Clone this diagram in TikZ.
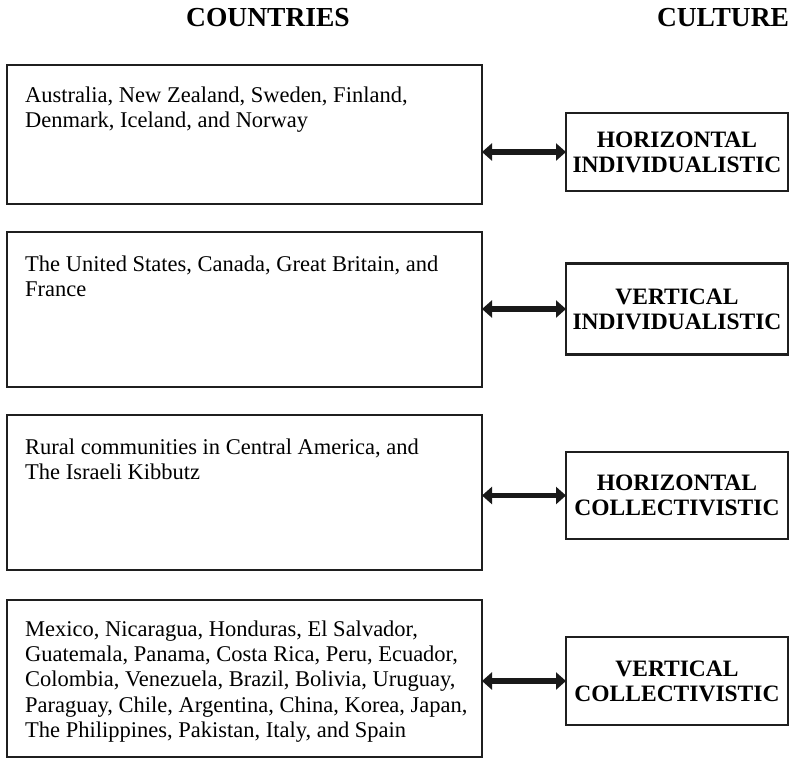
\documentclass[tikz,border=0pt]{standalone}
\usepackage{fontspec}
\setmainfont{Liberation Serif}
\usetikzlibrary{arrows.meta}
\begin{document}
\begin{tikzpicture}[x=1pt,y=-1pt,
  boxline/.style={draw=black!88, line width=2.8pt},
  leftbox/.style={boxline, rectangle, inner sep=0pt, outer sep=0pt, anchor=north west, minimum width=475pt},
  cultbox/.style={boxline, rectangle, inner sep=0pt, outer sep=0pt, minimum width=222pt, align=center, font=\fontsize{23.5}{25}\selectfont\bfseries},
  body/.style={anchor=north west, inner sep=0pt, align=left, font=\fontsize{22.5}{25.3}\selectfont},
  header/.style={inner sep=0pt, font=\fontsize{27.5}{30}\selectfont\bfseries},
  dblarrow/.style={line width=5.5pt, draw=black!90, {Triangle[length=10pt,width=17pt]}-{Triangle[length=10pt,width=17pt]}}
]
\useasboundingbox (0,0) rectangle (790,761);

\node[header] (hcountries) at (268,18) {COUNTRIES};
\node[header] (hculture) at (723,18) {CULTURE};

\node[leftbox, minimum height=139pt] (lb1) at (7,65) {};
\node[leftbox, minimum height=155pt] (lb2) at (7,232) {};
\node[leftbox, minimum height=155pt] (lb3) at (7,415) {};
\node[leftbox, minimum height=157pt] (lb4) at (7,600) {};

\node[body] (t1) at (25,86.5) {Australia, New Zealand, Sweden, Finland,\\Denmark, Iceland, and Norway};
\node[body] (t2) at (25,255.5) {The United States, Canada, Great Britain, and\\France};
\node[body] (t3) at (25,438.5) {Rural communities in Central America, and\\The Israeli Kibbutz};
\node[body] (t4) at (25,620.5) {Mexico, Nicaragua, Honduras, El Salvador,\\Guatemala, Panama, Costa Rica, Peru, Ecuador,\\Colombia, Venezuela, Brazil, Bolivia, Uruguay,\\Paraguay, Chile, Argentina, China, Korea, Japan,\\The Philippines, Pakistan, Italy, and Spain};

\node[cultbox, minimum height=78pt] (c1) at (677,152) {HORIZONTAL\\INDIVIDUALISTIC};
\node[cultbox, minimum height=91pt] (c2) at (677,309) {VERTICAL\\INDIVIDUALISTIC};
\node[cultbox, minimum height=87pt] (c3) at (677,495.5) {HORIZONTAL\\COLLECTIVISTIC};
\node[cultbox, minimum height=88pt] (c4) at (677,681) {VERTICAL\\COLLECTIVISTIC};

\draw[dblarrow] (lb1.east |- c1.west) -- (c1.west);
\draw[dblarrow] (lb2.east |- c2.west) -- (c2.west);
\draw[dblarrow] (lb3.east |- c3.west) -- (c3.west);
\draw[dblarrow] (lb4.east |- c4.west) -- (c4.west);
\end{tikzpicture}
\end{document}
